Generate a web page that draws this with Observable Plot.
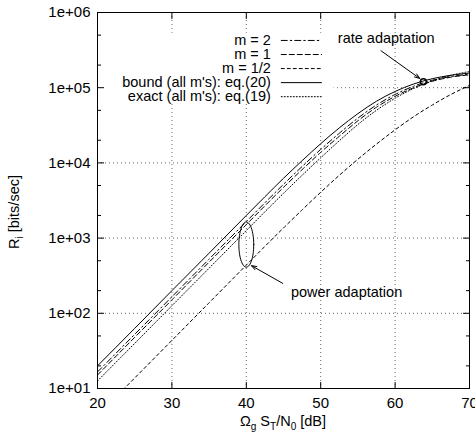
<!DOCTYPE html>
<html><head><meta charset="utf-8">
<script src="https://cdn.jsdelivr.net/npm/d3@7"></script>
<script src="https://cdn.jsdelivr.net/npm/@observablehq/plot@0.6"></script>
<style>
html,body{margin:0;padding:0;background:#fff}
#chart{width:475px;height:441px;overflow:hidden}
</style>
</head><body><div id="chart"></div>
<script>
// ---- data ----
const snrDb = [20, 25, 30, 35, 40, 42.5, 45, 47.5, 50, 52.5, 55, 57.5, 60, 62.5, 65, 67.5, 70];
const rateM2    = [16.6, 52.5, 166, 525, 1660, 2950, 5190, 8950, 15100, 24800, 39400, 58900, 81300, 104700, 125900, 140600, 151400];
const rateM1    = [15.1, 47.9, 151, 479, 1510, 2690, 4730, 8130, 13800, 22600, 36300, 55000, 76700, 100000, 121600, 138000, 147900];
const rateMHalf = [4.4, 13.8, 43.6, 138, 437, 776, 1365, 2370, 4070, 6840, 11200, 17800, 27500, 41200, 58900, 81300, 107200];
const rateBound = [20, 63, 200, 630, 2000, 3550, 6240, 10700, 18000, 29200, 45200, 66100, 89100, 112200, 131800, 146200, 156700];
const rateExact = [12.6, 39.8, 126, 398, 1260, 2240, 3940, 6840, 11700, 19700, 32400, 50100, 72400, 97700, 123000, 146200, 164100];

const seriesNames = ["m = 2", "m = 1", "m = 1/2", "bound (all m's): eq.(20)", "exact (all m's): eq.(19)"];
const seriesValues = [rateM2, rateM1, rateMHalf, rateBound, rateExact];
const seriesDash = ["6,3,1.5,3", "5,3", "3,3", null, "1,2"];

const xTicks = [20, 30, 40, 50, 60, 70];
const xGrid = [30, 40, 50, 60];
const yTicks = [1e1, 1e2, 1e3, 1e4, 1e5, 1e6];
const yTickLabels = ["1e+01", "1e+02", "1e+03", "1e+04", "1e+05", "1e+06"];
const yGrid = [1e2, 1e3, 1e4, 1e5];
const yMinor = [20, 50, 200, 500, 2000, 5000, 2e4, 5e4, 2e5, 5e5];

// annotation anchors (data coordinates)
const rateText = {x: 52.3, y: 4.5e5, label: "rate adaptation"};
const rateArrow = {x1: 58.1, y1: 3.1e5, x2: 63.3, y2: 1.33e5};
const rateCircle = {x: 63.8, y: 1.2e5};
const powerText = {x: 46.0, y: 190, label: "power adaptation"};
const powerArrow = {x1: 44.9, y1: 250, x2: 40.7, y2: 430};
const powerEllipse = {cx: 40.0, cy: 820, rx: 1.0, ryDecades: 0.3};

// legend layout (data coordinates)
const legendTextX = 43.3, legendLineX1 = 44.7, legendLineX2 = 50.1;
const legendTopY = 4.25e5, legendStep = Math.pow(10, -0.187);
const legendBox = {x1: 20, x2: 51.8, y1: 6.0e4, y2: 5.3e5};

// ---- build tables ----
const table = seriesNames.flatMap((name, i) =>
  snrDb.map((x, j) => ({series: name, x, y: seriesValues[i][j]})));

const ellipsePts = d3.range(0, 361, 6).map(a => {
  const t = a * Math.PI / 180;
  return {x: powerEllipse.cx + powerEllipse.rx * Math.cos(t),
          y: powerEllipse.cy * Math.pow(10, powerEllipse.ryDecades * Math.sin(t))};
});

const font = "'Liberation Sans', Arial, Helvetica, sans-serif";
const textSize = 14.5, tickSize = 15;

const marks = [
  Plot.gridX(xGrid, {stroke: "#666", strokeOpacity: 1, strokeDasharray: "1,3"}),
  Plot.gridY(yGrid, {stroke: "#666", strokeOpacity: 1, strokeDasharray: "1,3"}),
  Plot.rect([legendBox], {x1: "x1", x2: "x2", y1: "y1", y2: "y2", fill: "white"}),
  Plot.frame({stroke: "black", strokeWidth: 1}),
  Plot.axisX({ticks: xTicks, tickSize: 0, tickPadding: 9, fontSize: tickSize, tickFormat: d => String(d), label: null}),
  Plot.axisY({ticks: yTicks, tickSize: 0, tickPadding: 7, fontSize: tickSize, tickFormat: d => yTickLabels[yTicks.indexOf(d)], label: null}),
  Plot.axisX({anchor: "bottom", ticks: xGrid, tickSize: -6, tickFormat: () => "", label: null}),
  Plot.axisX({anchor: "top", ticks: xGrid, tickSize: -6, tickFormat: () => "", label: null}),
  Plot.axisY({anchor: "left", ticks: yGrid, tickSize: -7, tickFormat: () => "", label: null}),
  Plot.axisY({anchor: "right", ticks: yGrid, tickSize: -7, tickFormat: () => "", label: null}),
  Plot.axisY({anchor: "left", ticks: yMinor, tickSize: -4, tickFormat: () => "", label: null}),
  Plot.axisY({anchor: "right", ticks: yMinor, tickSize: -4, tickFormat: () => "", label: null}),
];

seriesNames.forEach((name, i) => {
  marks.push(Plot.line(table.filter(d => d.series === name), {
    x: "x", y: "y", stroke: "black", strokeWidth: 1,
    strokeDasharray: seriesDash[i], curve: "monotone-x", clip: true
  }));
  const ly = legendTopY * Math.pow(legendStep, i);
  marks.push(Plot.text([name], {x: legendTextX, y: ly, text: d => d, textAnchor: "end", fill: "black", fontSize: textSize}));
  marks.push(Plot.line([{x: legendLineX1, y: ly}, {x: legendLineX2, y: ly}], {
    x: "x", y: "y", stroke: "black", strokeWidth: 1, strokeDasharray: seriesDash[i]}));
});

marks.push(
  Plot.text([rateText], {x: "x", y: "y", text: "label", textAnchor: "start", fill: "black", fontSize: textSize}),
  Plot.arrow([rateArrow], {x1: "x1", y1: "y1", x2: "x2", y2: "y2", stroke: "black", strokeWidth: 1, headLength: 8, headAngle: 40}),
  Plot.dot([rateCircle], {x: "x", y: "y", r: 3, stroke: "black", fill: "none"}),
  Plot.text([powerText], {x: "x", y: "y", text: "label", textAnchor: "start", fill: "black", fontSize: textSize}),
  Plot.arrow([powerArrow], {x1: "x1", y1: "y1", x2: "x2", y2: "y2", stroke: "black", strokeWidth: 1, headLength: 8, headAngle: 40}),
  Plot.line(ellipsePts, {x: "x", y: "y", stroke: "black", strokeWidth: 1, curve: "linear-closed"})
);

const plot = Plot.plot({
  width: 475, height: 441,
  marginLeft: 97, marginRight: 6, marginTop: 12, marginBottom: 53,
  style: {fontFamily: font, fontSize: "14px", background: "white", color: "black", overflow: "visible"},
  x: {domain: [20, 70]},
  y: {type: "log", domain: [10, 1e6]},
  marks
});

const svg = d3.select(plot);
const xr = plot.scale("x").range, yr = plot.scale("y").range;
const xt = svg.append("text")
  .attr("x", (xr[0] + xr[1]) / 2).attr("y", 426)
  .attr("text-anchor", "middle").attr("font-family", font).attr("font-size", textSize).attr("fill", "black");
xt.append("tspan").text("Ω");
xt.append("tspan").attr("dy", 4).attr("font-size", 10).text("g");
xt.append("tspan").attr("dy", -4).text(" S");
xt.append("tspan").attr("dy", 4).attr("font-size", 10).text("T");
xt.append("tspan").attr("dy", -4).text("/N");
xt.append("tspan").attr("dy", 4).attr("font-size", 10).text("0");
xt.append("tspan").attr("dy", -4).text(" [dB]");

const yt = svg.append("text")
  .attr("transform", `translate(19,${(yr[0] + yr[1]) / 2 + 12}) rotate(-90)`)
  .attr("text-anchor", "middle").attr("font-family", font).attr("font-size", textSize).attr("fill", "black");
yt.append("tspan").text("R");
yt.append("tspan").attr("dy", 4).attr("font-size", 10).text("i");
yt.append("tspan").attr("dy", -4).text(" [bits/sec]");

document.getElementById("chart").appendChild(plot);
</script>
</body></html>
